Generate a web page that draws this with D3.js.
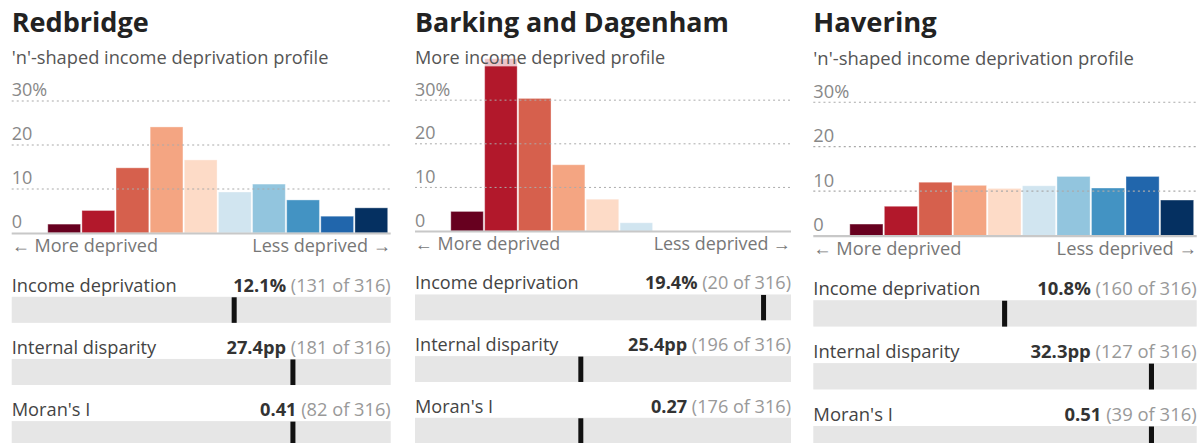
<!DOCTYPE html>
<html>
<head>
<meta charset="utf-8">
<script src="https://cdn.jsdelivr.net/npm/d3@7"></script>
<style>
  html, body { margin: 0; padding: 0; background: #fff; }
  svg { display: block; font-family: "Open Sans", sans-serif; }
</style>
</head>
<body>
<script>
// boroughs and their profile labels
const boroughs = ['Redbridge', 'Barking and Dagenham', 'Havering'];
const profiles = [
  "'n'-shaped income deprivation profile",
  'More income deprived profile',
  "'n'-shaped income deprivation profile"
];

// share of neighbourhoods (%) in each national decile, most deprived first
const deciles = [1, 2, 3, 4, 5, 6, 7, 8, 9, 10];
const redbridgeShares = [2.0, 5.1, 14.8, 24.1, 16.6, 9.3, 11.1, 7.5, 3.8, 5.7];
const barkingShares = [4.5, 39.5, 30.4, 15.2, 7.3, 1.9, 0, 0, 0, 0];
const haveringShares = [2.6, 6.6, 12.0, 11.3, 10.6, 11.2, 13.3, 10.7, 13.3, 8.0];
const yTicks = [0, 10, 20, 30];

// summary metrics
const metricNames = ['Income deprivation', 'Internal disparity', "Moran's I"];
const incomeValues = ['12.1%', '19.4%', '10.8%'];
const disparityValues = ['27.4pp', '25.4pp', '32.3pp'];
const moranValues = ['0.41', '0.27', '0.51'];
const incomeRanks = [131, 20, 160];
const disparityRanks = [181, 196, 127];
const moranRanks = [82, 176, 39];
const totalAreas = 316;
// marker position along each bar (0 = left, 1 = right)
const incomeMarkers = [0.587, 0.927, 0.499];
const disparityMarkers = [0.742, 0.441, 0.882];
const moranMarkers = [0.742, 0.441, 0.882];

const width = 1201;
const height = 443;
const W = 378; // design width of one panel
// panel placement on the page
const panelLeft = [11.7, 415, 813.3];
const panelWidth = [379, 376, 383.4];

const allShares = [redbridgeShares, barkingShares, haveringShares];
const metricValues = [incomeValues, disparityValues, moranValues];
const metricRanks = [incomeRanks, disparityRanks, moranRanks];
const metricMarkers = [incomeMarkers, disparityMarkers, moranMarkers];

const svg = d3.select('body')
  .append('svg')
  .attr('width', width)
  .attr('height', height);

const x = d3.scaleBand()
  .domain(deciles)
  .range([36, 375])
  .paddingInner(0.04);

const y = d3.scaleLinear()
  .domain([0, 30])
  .range([232.3, 100.7]);

const color = d3.scaleOrdinal()
  .domain(deciles)
  .range(d3.schemeRdBu[10]);

const markerX = d3.scaleLinear()
  .domain([0, 1])
  .range([0, W]);

boroughs.forEach((name, i) => {
  const g = svg.append('g')
    .attr('transform', `translate(${panelLeft[i]},0) scale(${panelWidth[i] / W})`);

  // title
  g.append('text')
    .attr('x', 0)
    .attr('y', 32)
    .attr('font-size', 27)
    .attr('font-weight', 700)
    .attr('fill', '#222')
    .text(name);

  // tick labels
  g.selectAll('.tick-label')
    .data(yTicks)
    .join('text')
    .attr('x', 0)
    .attr('y', (d) => y(d) - 4.5)
    .attr('font-size', 18)
    .attr('fill', '#888')
    .text((d) => d === 30 ? '30%' : d);

  // bars
  const data = deciles.map((d, k) => ({ decile: d, value: allShares[i][k] }));
  g.selectAll('.bar')
    .data(data.filter((d) => d.value > 0))
    .join('rect')
    .attr('x', (d) => x(d.decile))
    .attr('y', (d) => y(d.value))
    .attr('width', x.bandwidth())
    .attr('height', (d) => y(0) - y(d.value))
    .attr('fill', (d) => color(d.decile))
    .attr('stroke', '#fff')
    .attr('stroke-opacity', 0.35)
    .attr('stroke-width', 1);

  // gridlines over the bars
  g.selectAll('.grid')
    .data(yTicks.filter((d) => d > 0))
    .join('line')
    .attr('x1', 0)
    .attr('x2', W)
    .attr('y1', (d) => y(d))
    .attr('y2', (d) => y(d))
    .attr('stroke', '#aaa')
    .attr('stroke-width', 1)
    .attr('stroke-dasharray', '2,3');

  // baseline
  g.append('line')
    .attr('x1', 0)
    .attr('x2', W)
    .attr('y1', y(0) + 0.5)
    .attr('y2', y(0) + 0.5)
    .attr('stroke', '#c8c8c8')
    .attr('stroke-width', 2);

  // subtitle on a translucent white band (washes out tall bars)
  const sub = g.append('text')
    .attr('x', 0)
    .attr('y', 64)
    .attr('font-size', 18.2)
    .attr('fill', '#555')
    .text(profiles[i]);
  const subWidth = sub.node().getComputedTextLength();
  g.insert('rect', () => sub.node())
    .attr('x', 0)
    .attr('y', 44)
    .attr('width', subWidth)
    .attr('height', 22.7)
    .attr('fill', '#fff')
    .attr('fill-opacity', 0.75);

  // direction labels
  g.append('text')
    .attr('x', 0)
    .attr('y', 251.5)
    .attr('font-size', 18)
    .attr('fill', '#777')
    .text('\u2190 More deprived');
  g.append('text')
    .attr('x', W)
    .attr('y', 251.5)
    .attr('text-anchor', 'end')
    .attr('font-size', 18)
    .attr('fill', '#777')
    .text('Less deprived \u2192');

  // metric rows
  metricNames.forEach((m, r) => {
    const top = 296 + 62 * r;
    g.append('text')
      .attr('x', 0)
      .attr('y', top - 5)
      .attr('font-size', 18.2)
      .attr('fill', '#444')
      .text(m);
    const t = g.append('text')
      .attr('x', W)
      .attr('y', top - 5)
      .attr('text-anchor', 'end')
      .attr('font-size', 18.2);
    t.append('tspan')
      .attr('font-weight', 700)
      .attr('fill', '#333')
      .text(metricValues[r][i]);
    t.append('tspan')
      .attr('fill', '#999')
      .text(` (${metricRanks[r][i]} of ${totalAreas})`);

    g.append('rect')
      .attr('x', 0)
      .attr('y', top)
      .attr('width', W)
      .attr('height', 26)
      .attr('fill', '#e6e6e6');
    g.append('rect')
      .attr('x', markerX(metricMarkers[r][i]) - 2.5)
      .attr('y', top + 0.5)
      .attr('width', 5)
      .attr('height', 25.5)
      .attr('fill', '#111');
  });
});
</script>
</body>
</html>
